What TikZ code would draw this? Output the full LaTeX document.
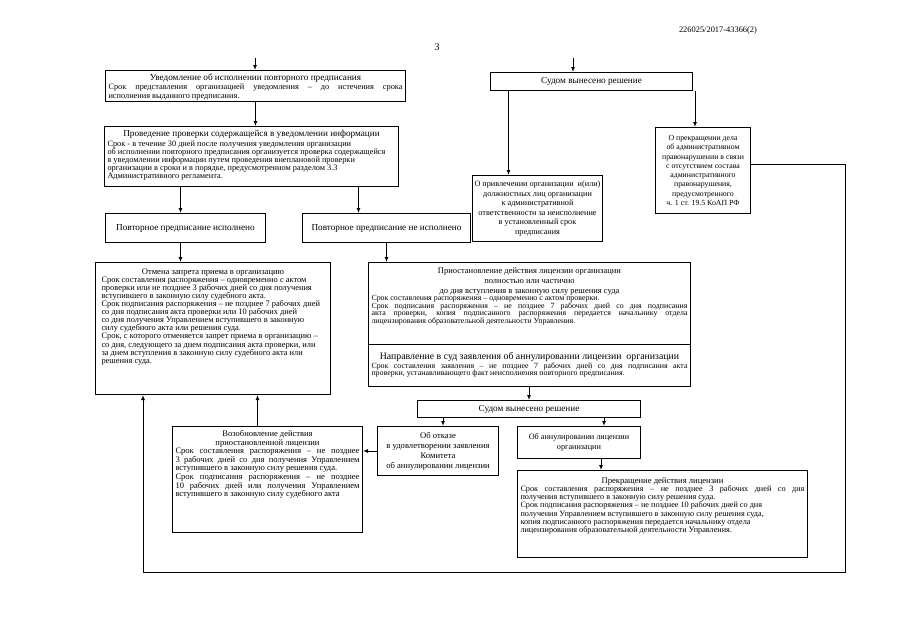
\documentclass[tikz,border=0pt]{standalone}
\usepackage{fontspec}
\setmainfont{Liberation Serif}
\usetikzlibrary{positioning, arrows.meta}

\tikzset{
  blok/.style={draw, line width=1pt, anchor=north west, inner xsep=3pt, inner ysep=0pt},
  prostoi/.style={draw, line width=1pt, anchor=north west, inner sep=1pt, align=center},
  strelka/.style={line width=1pt, -{Latex[length=5pt,width=4pt]}},
}
\newcommand{\fnt}[2]{\fontsize{#1}{#2}\selectfont}
\newcommand{\jline}[1]{\makebox[\linewidth][s]{#1}}
\newcommand{\ramka}[3]{\parbox[c][#2][t]{#1}{#3}}

\begin{document}
\begin{tikzpicture}[x=1pt, y=-1pt]
  \useasboundingbox (0,0) rectangle (905,640);

  % шапка страницы
  \node[font=\fnt{8.4}{9}] (nomer) at (718,30) {226025/2017-43366(2)};
  \node[font=\fnt{10}{10}] (stranica) at (437,47) {3};

  % левая ветвь
  \node[blok] (uvedom) at (105,70) {\ramka{294pt}{31pt}{\vspace{3pt}%
    \centerline{\fnt{9.2}{9.5}Уведомление об исполнении повторного предписания}%
    \fnt{8.3}{8.5}\vspace{1pt}\jline{Срок представления организацией уведомления – до истечения срока}\\
    исполнения выданного предписания.}};
  \node[blok] (proverka) at (104,126) {\ramka{288pt}{60pt}{\vspace{4pt}%
    \centerline{\fnt{9.2}{9.5}Проведение проверки содержащейся в уведомлении информации}%
    \fnt{8.3}{8}\vspace{2pt}Срок - в течение 30 дней после получения уведомления организации\\
    об исполнении повторного предписания организуется проверка содержащейся\\
    в уведомлении информации путем проведения внеплановой проверки\\
    организации в сроки и в порядке, предусмотренном разделом 3.3\\
    Административного регламента.}};
  \node[prostoi, minimum width=160pt, minimum height=29pt, font=\fnt{9.2}{10}] (ispoln) at (105,213) {Повторное предписание исполнено};
  \node[prostoi, minimum width=168pt, minimum height=29pt, font=\fnt{9.2}{10}] (neispoln) at (302,213) {Повторное предписание не исполнено};
  \node[blok, inner xsep=6pt] (otmena) at (95,262) {\ramka{223pt}{132pt}{\vspace{6pt}%
    \centerline{\fnt{8.6}{9}Отмена запрета приема в организацию}%
    \fnt{8.4}{8.1}Срок составления распоряжения – одновременно с актом\\
    проверки или не позднее 3 рабочих дней со дня получения\\
    вступившего в законную силу  судебного акта.\\
    Срок подписания распоряжения – не позднее 7 рабочих дней\\
    со дня подписания акта проверки или 10 рабочих дней\\
    со дня получения  Управлением вступившего в законную\\
    силу  судебного акта или решения суда.\\
    Срок, с которого отменяется запрет приема в организацию –\\
    со дня, следующего за днем подписания акта проверки, или\\
    за днем вступления в законную силу судебного акта или\\
    решения суда.}};

  % правая ветвь
  \node[prostoi, minimum width=202pt, minimum height=18pt, font=\fnt{9.2}{10}] (sud1) at (490,72) {Судом вынесено решение};
  \node[prostoi, minimum width=130pt, minimum height=66pt, font=\fnt{8.2}{9.5}] (privlech) at (472,175) {О привлечении организации\ \ и(или)\\ должностных лиц организации\\ к административной\\ ответственности за неисполнение\\ в установленный срок\\ предписания};
  \node[prostoi, minimum width=95pt, minimum height=86pt, font=\fnt{7.8}{9.3}] (prekr) at (655,127) {О прекращении дела\\ об административном\\ правонарушении в связи\\ с отсутствием состава\\ административного\\ правонарушения,\\ предусмотренного\\ ч. 1 ст. 19.5 КоАП РФ};
  \node[blok] (priost) at (368,262) {\ramka{316pt}{82pt}{\vspace{5pt}%
    \fnt{8.5}{10}\centerline{Приостановление действия лицензии организации}%
    \centerline{полностью или частично}%
    \centerline{до дня вступления в законную силу решения суда}%
    \fnt{7.9}{7.5}Срок составления распоряжения – одновременно с актом проверки.\\
    \jline{Срок подписания распоряжения – не позднее 7 рабочих дней со дня подписания}\\
    \jline{акта проверки, копия подписанного распоряжения передается начальнику отдела}\\
    лицензирования образовательной деятельности Управления.}};
  \node[blok] (napravl) at (368,344) {\ramka{316pt}{42pt}{\vspace{8pt}%
    \centerline{\fnt{9.8}{9}Направление в суд заявления об аннулировании лицензии\ \ организации}%
    \fnt{7.9}{7.5}\jline{Срок составления заявления – не позднее 7 рабочих дней со дня подписания акта}\\
    проверки, устанавливающего факт неисполнения повторного предписания.}};

  % второе решение суда
  \node[prostoi, minimum width=223pt, minimum height=17pt, font=\fnt{9.2}{10}] (sud2) at (417,400) {Судом вынесено решение};
  \node[prostoi, minimum width=121pt, minimum height=49pt, font=\fnt{8.6}{10}] (otkaz) at (377,426) {Об отказе\\ в удовлетворении заявления\\ Комитета\\ об аннулировании лицензии};
  \node[prostoi, minimum width=123pt, minimum height=32pt, font=\fnt{8.2}{10}] (annul) at (517,426) {Об аннулировании лицензии\\ организации};
  \node[blok] (prekrlic) at (517,470) {\ramka{284pt}{87pt}{\vspace{7pt}%
    \centerline{\fnt{8.6}{9}Прекращение действия лицензии}%
    \fnt{8.2}{8.2}\jline{Срок составления распоряжения – не позднее 3 рабочих дней со дня}\\
    получения вступившего в законную силу  решения суда.\\
    Срок подписания распоряжения – не позднее 10 рабочих дней со дня\\
    получения  Управлением вступившего в законную силу  решения суда,\\
    копия подписанного распоряжения передается начальнику отдела\\
    лицензирования образовательной деятельности Управления.}};
  \node[blok] (vozobn) at (172,426) {\ramka{184pt}{106pt}{\vspace{4pt}%
    \fnt{8.5}{8.6}\centerline{Возобновление действия}%
    \centerline{приостановленной лицензии}%
    \jline{Срок составления распоряжения – не позднее}\\
    \jline{3 рабочих дней со дня получения Управлением}\\
    вступившего в законную силу  решения суда.\\
    \jline{Срок подписания распоряжения – не позднее}\\
    \jline{10 рабочих дней или получения  Управлением}\\
    вступившего в законную силу  судебного акта}};

  % стрелки
  \coordinate (vhodA) at (255,58);
  \coordinate (vhodE) at (573,58);
  \coordinate (ugol) at (845,572);

  \draw[strelka] (vhodA) -- (vhodA |- uvedom.north);
  \draw[strelka] (uvedom.south) -- (uvedom.south |- proverka.north);
  \draw[strelka] ([xshift=-5pt]ispoln.north |- proverka.south) -- ([xshift=-5pt]ispoln.north);
  \draw[strelka] ([xshift=-28pt]neispoln.north |- proverka.south) -- ([xshift=-28pt]neispoln.north);
  \draw[strelka] ([xshift=-5pt]ispoln.south) -- ([xshift=-5pt]ispoln.south |- otmena.north);
  \draw[strelka] (neispoln.south) -- (neispoln.south |- priost.north);

  \draw[strelka] (vhodE) -- (vhodE |- sud1.north);
  \draw[strelka] ([xshift=-29pt]privlech.north |- sud1.south) -- ([xshift=-29pt]privlech.north);
  \draw[strelka] ([xshift=-8pt]prekr.north |- sud1.south) -- ([xshift=-8pt]prekr.north);
  \draw[strelka] ([yshift=6pt]prekr.east) -| (ugol) -| ([xshift=48pt]otmena.south west);

  \draw[strelka] (sud2.north |- napravl.south) -- (sud2.north);
  \draw[strelka] ([xshift=5pt]otkaz.north |- sud2.south) -- ([xshift=5pt]otkaz.north);
  \draw[strelka] ([xshift=25pt]annul.north |- sud2.south) -- ([xshift=25pt]annul.north);
  \draw[strelka] ([xshift=22pt]annul.south) -- ([xshift=22pt]annul.south |- prekrlic.north);
  \draw[strelka] (otkaz.west) -- (otkaz.west -| vozobn.east);
  \draw[strelka] ([xshift=-10pt]vozobn.north) -- ([xshift=-10pt]vozobn.north |- otmena.south);
\end{tikzpicture}
\end{document}
